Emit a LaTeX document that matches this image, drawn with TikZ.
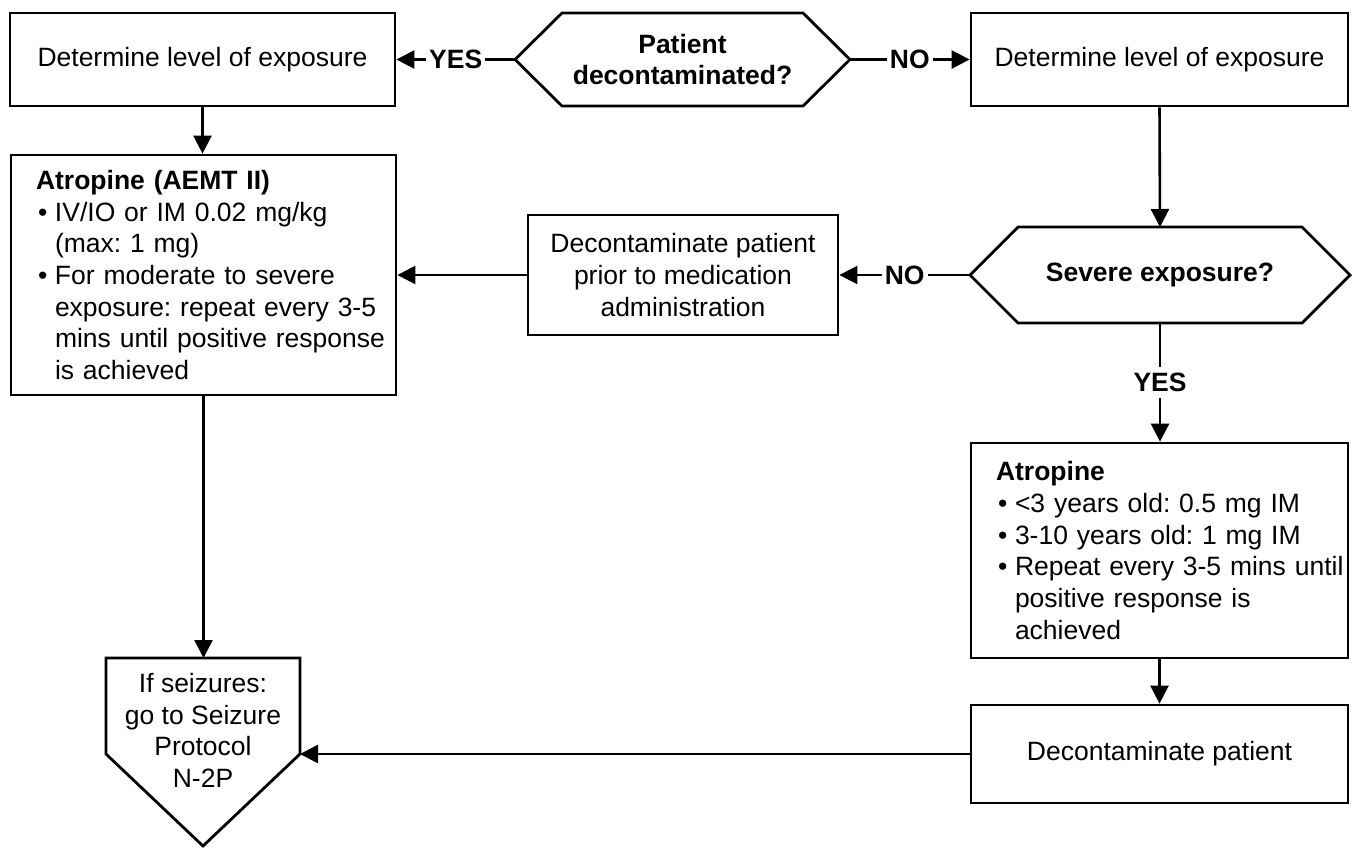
\documentclass[tikz,border=0pt]{standalone}
\usepackage{fontspec}
\setmainfont{Liberation Sans}
\usetikzlibrary{arrows.meta,calc}
\newcommand{\bul}{\makebox[19pt][l]{\hspace{2pt}\textbullet}}
\newcommand{\ind}{\hspace*{19pt}}
\frenchspacing
\begin{document}
\begin{tikzpicture}[x=1pt,y=-1pt,
  every node/.style={font=\fontsize{26.5}{31.7}\selectfont},
  box/.style={draw, line width=2.8pt, inner sep=0pt, align=center},
  lbox/.style={draw, line width=2.8pt, inner ysep=0pt, align=left},
  shapeline/.style={line width=2.8pt, line join=miter},
  conn/.style={line width=2.6pt, -{Triangle[length=18pt,width=18pt]}},
  lbl/.style={fill=white, inner xsep=3pt, inner ysep=6pt, font=\fontsize{26.5}{31.7}\selectfont\bfseries},
  dec/.style={align=center, inner sep=0pt, font=\fontsize{26.5}{31.7}\selectfont\bfseries}
]
\useasboundingbox (0,0) rectangle (1357,847);

% top row
\node[box, minimum width=385pt, minimum height=93pt] (A) at (202.5,59.5) {Determine level of exposure};
\node[box, minimum width=377pt, minimum height=93pt] (C) at (1159.5,59.5) {Determine level of exposure};

\node[dec] (P) at (682.5,59.5) {Patient\\decontaminated?};
\coordinate (Pl) at (515,59.5);
\coordinate (Pr) at (850,59.5);
\draw[shapeline] (Pl) -- (562,13) -- (803,13) -- (Pr) -- (803,106) -- (562,106) -- cycle;

% severe exposure hexagon
\node[dec] (S) at (1160,275) {Severe exposure?};
\coordinate (Sl) at (970,275);
\coordinate (Sr) at (1350,275);
\coordinate (St) at (1160,227);
\coordinate (Sb) at (1160,323);
\draw[shapeline] (Sl) -- (1018,227) -- (1302,227) -- (Sr) -- (1302,323) -- (1018,323) -- cycle;

% middle decontaminate box
\node[box, minimum width=310pt, minimum height=120pt] (D) at (683,275)
  {Decontaminate patient\\prior to medication\\administration};

% left atropine box
\node[lbox, inner xsep=25pt, text width=335pt, minimum height=240pt] (L) at (203.5,275)
  {\textbf{Atropine (AEMT II)}\\
   \mbox{\bul IV/IO or IM 0.02 mg/kg}\\
   \mbox{\ind(max: 1 mg)}\\
   \mbox{\bul For moderate to severe}\\
   \mbox{\ind exposure: repeat every 3-5}\\
   \mbox{\ind mins until positive response}\\
   \mbox{\ind is achieved}};

% right atropine box
\node[lbox, inner xsep=25pt, text width=327pt, minimum height=215pt] (R) at (1159.5,550.5)
  {\textbf{Atropine}\\
   \mbox{\bul <3 years old: 0.5 mg IM}\\
   \mbox{\bul 3-10 years old: 1 mg IM}\\
   \mbox{\bul Repeat every 3-5 mins until}\\
   \mbox{\ind positive response is}\\
   \mbox{\ind achieved}};

% decontaminate patient box
\node[box, minimum width=377pt, minimum height=98pt] (E) at (1159.5,754) {Decontaminate patient};

% off-page pentagon
\node[align=center, inner sep=0pt] (F) at (203,730.5) {If seizures:\\go to Seizure\\Protocol\\N-2P};
\coordinate (Ft) at (203,658);
\coordinate (Fr) at (300,754);
\draw[shapeline] (106,658) -- (300,658) -- (Fr) -- (203,846) -- (106,754) -- cycle;

% connectors
\draw[conn] (Pl) -- node[lbl]{YES} (A.east);
\draw[conn] (Pr) -- node[lbl]{NO} (C.west);
\draw[conn] (A.south) -- (A.south |- L.north);
\draw[conn] (C.south) -- (St);
\draw[conn] (Sl) -- node[lbl]{NO} (D.east);
\draw[conn] (D.west) -- (L.east);
\draw[conn] (Sb) -- node[lbl]{YES} (Sb |- R.north);
\draw[conn] (R.south) -- (R.south |- E.north);
\draw[conn] (E.west) -- (Fr);
\draw[conn] (L.south) -- (L.south |- Ft);
\end{tikzpicture}
\end{document}
